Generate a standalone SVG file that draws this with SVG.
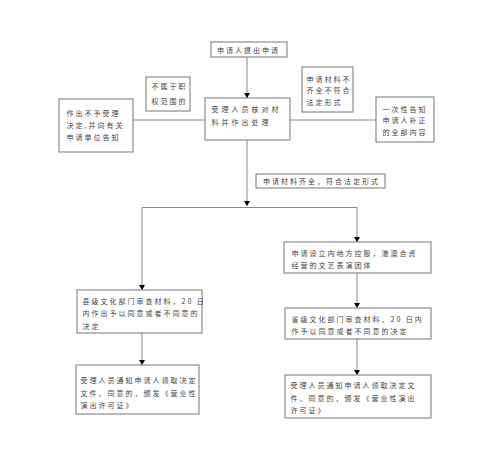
<svg xmlns="http://www.w3.org/2000/svg" width="500" height="461" viewBox="0 0 500 461">
<defs>
<marker id="ah" markerWidth="6" markerHeight="6" refX="5" refY="3" orient="auto" markerUnits="userSpaceOnUse">
<path d="M0,0 L5,3 L0,6 Z" fill="#000"/>
</marker>
<style>
.box{fill:#fff;stroke:#777;stroke-width:1}
.t{font-family:"Noto Sans CJK SC","Noto Sans",sans-serif;font-size:7px;fill:#444;letter-spacing:2px;dominant-baseline:central}
.ln{stroke:#888;stroke-width:1;fill:none}
.ar{stroke:#888;stroke-width:1;fill:none;marker-end:url(#ah)}
</style>
</defs>
<rect width="500" height="461" fill="#fff"/>
<g id="connectors">
<line class="ar" x1="247" y1="57" x2="247" y2="98"/>
<line class="ln" x1="133" y1="120" x2="205" y2="120"/>
<line class="ln" x1="290" y1="120" x2="376" y2="120"/>
<line class="ar" x1="247" y1="140" x2="247" y2="206"/>
<line class="ln" x1="142" y1="207.5" x2="357" y2="207.5"/>
<line class="ar" x1="142" y1="207.5" x2="142" y2="290"/>
<line class="ar" x1="357" y1="207.5" x2="357" y2="242"/>
<line class="ar" x1="357" y1="273" x2="357" y2="308"/>
<line class="ar" x1="357" y1="339" x2="357" y2="375"/>
<line class="ar" x1="142" y1="333" x2="142" y2="365"/>
</g>
<g id="n-apply">
<rect class="box" x="211" y="42" width="76" height="15"/>
<text class="t" x="217" y="50">申请人提出申请</text>
</g>
<g id="n-notscope">
<rect class="box" x="146" y="77" width="44" height="34"/>
<text class="t" x="151.5" y="86">不属于职</text>
<text class="t" x="151.5" y="100.5">权范围的</text>
</g>
<g id="n-reject">
<rect class="box" x="59" y="99" width="74" height="53"/>
<text class="t" x="66.5" y="112.5">作出不予受理</text>
<text class="t" x="66.5" y="124.5">决定,并向有关</text>
<text class="t" x="66.5" y="136.5">申请单位告知</text>
</g>
<g id="n-process">
<rect class="box" x="205" y="98" width="85" height="42"/>
<text class="t" x="211.5" y="109" style="letter-spacing:3px">受理人员核对材</text>
<text class="t" x="211.5" y="121.5" style="letter-spacing:3px">料并作出处理</text>
</g>
<g id="n-incomplete">
<rect class="box" x="302" y="67" width="51" height="45"/>
<text class="t" x="306.5" y="78.5">申请材料不</text>
<text class="t" x="306.5" y="90">齐全不符合</text>
<text class="t" x="306.5" y="102">法定形式</text>
</g>
<g id="n-inform">
<rect class="box" x="376" y="97" width="58" height="45"/>
<text class="t" x="382.5" y="108.5">一次性告知</text>
<text class="t" x="382.5" y="120">申请人补正</text>
<text class="t" x="382.5" y="131.5">的全部内容</text>
</g>
<g id="n-complete">
<rect class="box" x="256" y="174" width="129" height="14"/>
<text class="t" x="263" y="181">申请材料齐全，符合法定形式</text>
</g>
<g id="n-county">
<rect class="box" x="77" y="290" width="125" height="43"/>
<text class="t" x="82.5" y="300.5">县级文化部门审查材料，20 日</text>
<text class="t" x="82.5" y="313">内作出予以同意或者不同意的</text>
<text class="t" x="82.5" y="325.5">决定</text>
</g>
<g id="n-county-result">
<rect class="box" x="76" y="365" width="123" height="49"/>
<text class="t" x="80.5" y="380">受理人员通知申请人领取决定</text>
<text class="t" x="80.5" y="392.5">文件。同意的，颁发《营业性</text>
<text class="t" x="80.5" y="405">演出许可证》</text>
</g>
<g id="n-hk">
<rect class="box" x="284" y="242" width="147" height="31"/>
<text class="t" x="291.5" y="253">申请设立内地方控股，港澳合资</text>
<text class="t" x="291.5" y="264.5">经营的文艺表演团体</text>
</g>
<g id="n-province">
<rect class="box" x="285" y="308" width="146" height="31"/>
<text class="t" x="291.5" y="319">省级文化部门审查材料，20 日内</text>
<text class="t" x="291.5" y="331">作予以同意或者不同意的决定</text>
</g>
<g id="n-province-result">
<rect class="box" x="285" y="375" width="146" height="43"/>
<text class="t" x="290.5" y="385">受理人员通知申请人领取决定文</text>
<text class="t" x="290.5" y="397.5">件。同意的，颁发《营业性演出</text>
<text class="t" x="290.5" y="409.5">许可证》</text>
</g>
</svg>
